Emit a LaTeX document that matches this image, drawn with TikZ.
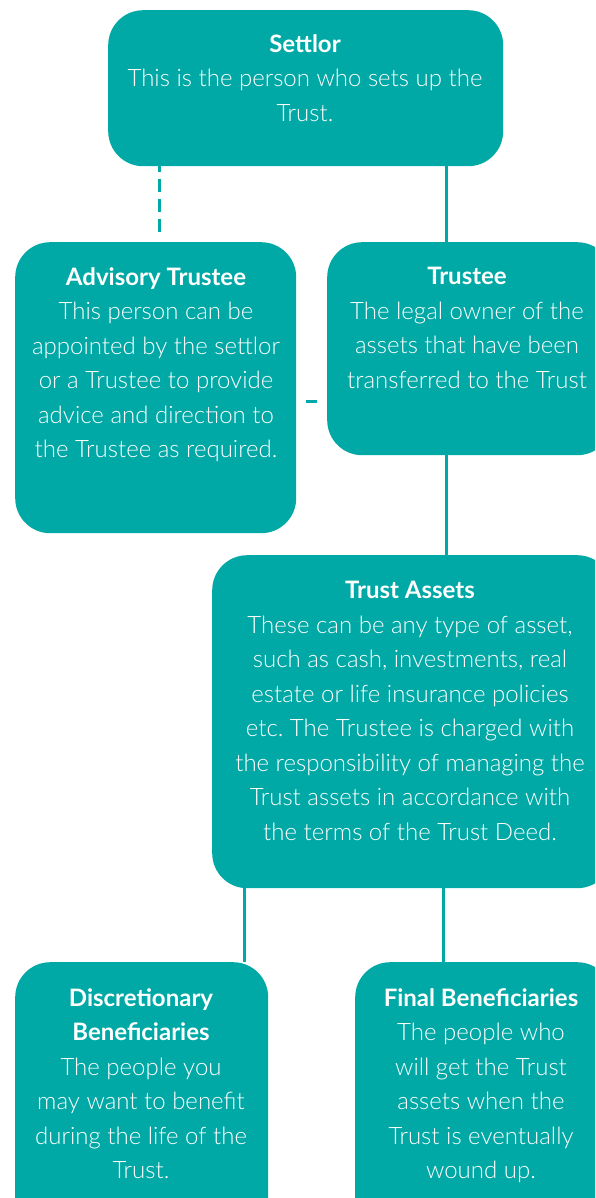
\documentclass[tikz,border=0pt]{standalone}
\usepackage{fontspec}
\setmainfont{Lato}[UprightFont={* Light},BoldFont={* Bold}]
\definecolor{teal1}{HTML}{00A9A5}
\frenchspacing
\begin{document}
\begin{tikzpicture}[x=1pt,y=-1pt,
  box/.style={fill=teal1, draw=none, rounded corners=35pt, rectangle, inner sep=0pt, anchor=north west},
  txt/.style={text=white, align=center, anchor=north, inner sep=0pt, font=\fontsize{24}{34.5}\selectfont},
  link/.style={draw=teal1, line width=3pt}]
\path[use as bounding box] (0,0) rectangle (595,1198);
\clip (0,0) rectangle (595,1198);
% boxes
\node[box, minimum width=395pt, minimum height=156pt] (settlor) at (108,10) {};
\node[box, minimum width=281pt, minimum height=291pt] (advisory) at (15,242) {};
\node[box, minimum width=285pt, minimum height=213pt] (trustee) at (327,242) {};
\node[box, minimum width=400pt, minimum height=333pt] (assets) at (212,555) {};
\node[box, minimum width=253pt, minimum height=270pt] (disc) at (15,962) {};
\node[box, minimum width=257pt, minimum height=270pt] (final) at (355,962) {};
% texts
\node[txt] (settlorT) at (305,34) {\textbf{Settlor}\\This is the person who sets up the\\Trust.};
\node[txt] (advisoryT) at (156,267) {\textbf{Advisory Trustee}\\This person can be\\appointed by the settlor\\or a Trustee to provide\\advice and direction to\\the Trustee as required.};
\node[txt] (trusteeT) at (467,267) {\textbf{Trustee}\\The legal owner of the\\assets that have been\\transferred to the Trust};
\node[txt] (assetsT) at (410,581) {\textbf{Trust Assets}\\These can be any type of asset,\\such as cash, investments, real\\estate or life insurance policies\\etc. The Trustee is charged with\\the responsibility of managing the\\Trust assets in accordance with\\the terms of the Trust Deed.};
\node[txt] (discT) at (141,988) {\textbf{Discretionary}\\\textbf{Beneficiaries}\\The people you\\may want to benefit\\during the life of the\\Trust.};
\node[txt] (finalT) at (481,988) {\textbf{Final Beneficiaries}\\The people who\\will get the Trust\\assets when the\\Trust is eventually\\wound up.};
% connector x positions
\coordinate (xa) at (159,0);
\coordinate (xb) at (446,0);
\coordinate (xc) at (244,0);
\coordinate (xd) at (443,0);
\coordinate (ya) at (0,401);
% connectors
\draw[link, dash pattern=on 6pt off 7pt on 13pt off 7pt on 13pt off 7pt on 13pt off 30pt] (settlor.south -| xa) -- (advisory.north -| xa);
\draw[link] (settlor.south -| xb) -- (trustee.north -| xb);
\draw[link, dash pattern=on 0pt off 10pt on 11pt off 20pt] (advisory.east |- ya) -- (trustee.west |- ya);
\draw[link] (trustee.south -| xb) -- (assets.north -| xb);
\draw[link] (assets.south -| xc) -- (disc.north -| xc);
\draw[link] (assets.south -| xd) -- (final.north -| xd);
\end{tikzpicture}
\end{document}
